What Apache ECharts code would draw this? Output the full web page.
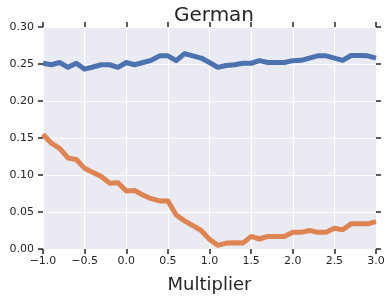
<!DOCTYPE html>
<html>
<head>
<meta charset="utf-8">
<script src="https://cdn.jsdelivr.net/npm/echarts@6/dist/echarts.min.js"></script>
<style>html,body{margin:0;padding:0;background:#fff}#c{width:392px;height:300px}</style>
</head>
<body>
<div id="c"></div>
<script>
const title = 'German';
const xName = 'Multiplier';
const multipliers = [-1.0,-0.9,-0.8,-0.7,-0.6,-0.5,-0.4,-0.3,-0.2,-0.1,0.0,0.1,0.2,0.3,0.4,0.5,0.6,0.7,0.8,0.9,1.0,1.1,1.2,1.3,1.4,1.5,1.6,1.7,1.8,1.9,2.0,2.1,2.2,2.3,2.4,2.5,2.6,2.7,2.8,2.9,3.0];
const blueValues = [0.251,0.249,0.252,0.2455,0.251,0.243,0.246,0.249,0.249,0.2455,0.252,0.249,0.252,0.255,0.261,0.261,0.2545,0.264,0.261,0.258,0.252,0.2455,0.248,0.249,0.251,0.251,0.2545,0.252,0.252,0.252,0.2545,0.255,0.258,0.261,0.261,0.258,0.255,0.2615,0.2615,0.261,0.258];
const orangeValues = [0.155,0.143,0.136,0.123,0.121,0.109,0.1035,0.098,0.089,0.0895,0.0785,0.079,0.073,0.068,0.065,0.065,0.046,0.038,0.0315,0.025,0.013,0.005,0.008,0.0085,0.008,0.017,0.0135,0.017,0.017,0.017,0.0225,0.0225,0.025,0.0225,0.0225,0.028,0.026,0.034,0.034,0.034,0.037];

const font = 'DejaVu Sans';
const txt = '#262626';
function pair(xs, ys){ return xs.map((x,i)=>[x, ys[i]]); }
function fmtX(v){ return (v<0?'\u2212':'') + Math.abs(v).toFixed(1); }
function tick(){ return {show:true, length:5, lineStyle:{color:'#262626', width:1.5}}; }
function noLine(){ return {show:false, onZero:false}; }

const chart = echarts.init(document.getElementById('c'));
chart.setOption({
  animation:false,
  title:{text:title, left:209, top:1, textAlign:'center', textStyle:{fontFamily:font, fontSize:20, fontWeight:'normal', color:txt}},
  grid:{left:43, right:16, top:27, bottom:51, show:true, backgroundColor:'#EAEAF2', borderWidth:0},
  xAxis:[{
    type:'value', min:-1, max:3, interval:0.5,
    name:xName, nameLocation:'middle', nameGap:27,
    nameTextStyle:{fontFamily:font, fontSize:18, color:txt},
    axisLine:noLine(), axisTick:tick(),
    axisLabel:{formatter:fmtX, fontFamily:font, fontSize:11, color:txt, margin:7},
    splitLine:{show:true, lineStyle:{color:'#ffffff', width:1}}
  },{
    type:'value', position:'top', min:-1, max:3, interval:0.5,
    axisLine:noLine(), axisTick:tick(), axisLabel:{show:false}, splitLine:{show:false}
  }],
  yAxis:[{
    type:'value', min:0, max:0.3, interval:0.05,
    axisLine:noLine(), axisTick:tick(),
    axisLabel:{formatter:v=>v.toFixed(2), fontFamily:font, fontSize:11, color:txt, margin:9},
    splitLine:{show:true, lineStyle:{color:'#ffffff', width:1}}
  },{
    type:'value', position:'right', min:0, max:0.3, interval:0.05,
    axisLine:noLine(), axisTick:tick(), axisLabel:{show:false}, splitLine:{show:false}
  }],
  series:[
    {type:'line', data:pair(multipliers, blueValues), showSymbol:false, lineStyle:{color:'#4C72B0', width:5, join:'round'}, itemStyle:{color:'#4C72B0'}},
    {type:'line', data:pair(multipliers, orangeValues), showSymbol:false, lineStyle:{color:'#DD8452', width:5, join:'round'}, itemStyle:{color:'#DD8452'}}
  ]
});
</script>
</body>
</html>
